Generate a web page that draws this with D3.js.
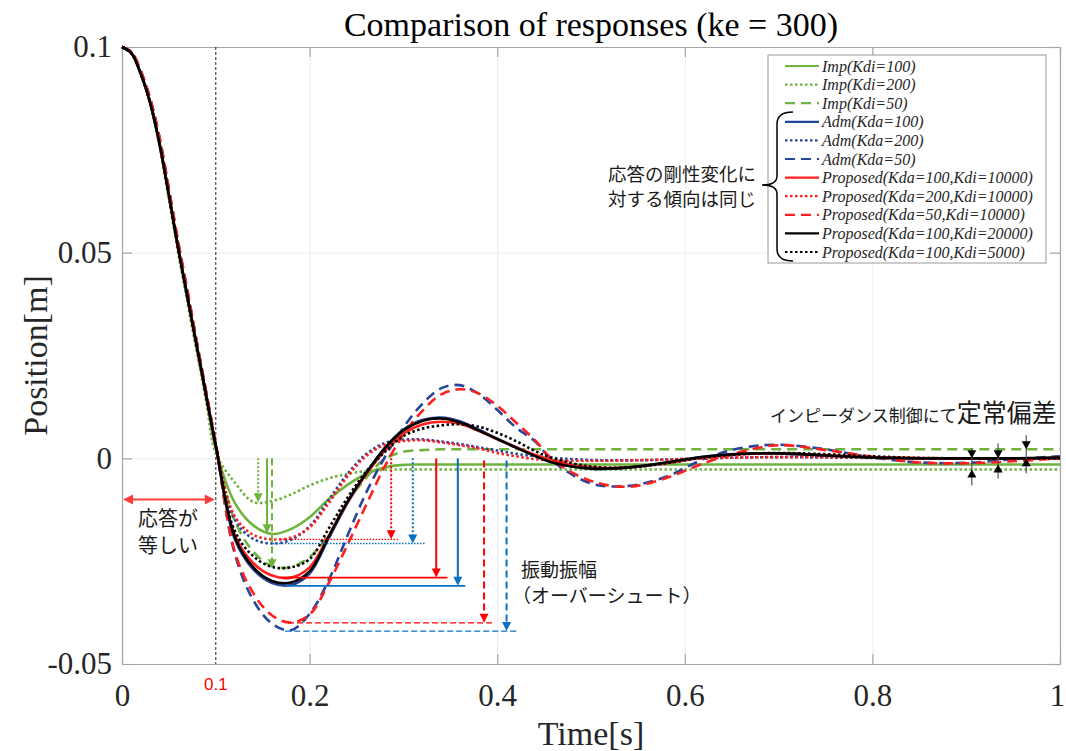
<!DOCTYPE html>
<html>
<head>
<meta charset="utf-8">
<style>
  body { margin: 0; background: #fff; }
  .grid line { stroke: #ebebeb; }
  .grid .domain { stroke: none; }
  .axis path, .axis line { stroke: #a6a6a6; stroke-width: 1.2; }
  .axis text { font-family: "Liberation Serif", serif; font-size: 31px; fill: #262626; }
  .jp { font-family: "Noto Sans CJK JP", sans-serif; fill: #1a1a1a; }
  .leg text { font-family: "Liberation Serif", serif; font-style: italic; font-size: 16px; fill: #262626; }
</style>
<script src="https://d3js.org/d3.v7.min.js"></script>
</head>
<body>
<svg id="chart" width="1066" height="751"></svg>
<script>
// time samples [s]
const times = [0,0.01,0.02,0.03,0.04,0.05,0.06,0.07,0.08,0.09,0.1,
  0.12,0.14,0.16,0.18,0.2,0.22,0.24,0.26,0.28,0.3,0.32,0.34,0.36,0.38,0.4,0.42,0.44,0.46,
  0.5,0.54,0.58,0.62,0.66,0.7,
  0.75,0.8,0.85,0.9,0.95,1.0];

// position [m]
const impKdi100 = [0.1,0.0985,0.0935,0.0864,0.0763,0.0636,0.0505,0.0385,0.0263,0.0143,0.0022,
  -0.0107,-0.0163,-0.0184,-0.0172,-0.0143,-0.01,-0.0065,-0.0038,-0.0022,-0.0016,-0.0015,-0.0015,-0.0015,-0.0015,-0.0015,-0.0015,-0.0015,-0.0015,
  -0.0015,-0.0015,-0.0015,-0.0015,-0.0015,-0.0015,
  -0.0015,-0.0015,-0.0015,-0.0015,-0.0015,-0.0015];
const impKdi200 = [0.1,0.0985,0.0935,0.0862,0.076,0.063,0.0498,0.0375,0.0255,0.0135,0.0012,
  -0.0058,-0.0106,-0.0104,-0.0088,-0.0066,-0.0049,-0.0038,-0.0031,-0.0028,-0.0027,-0.0027,-0.0027,-0.0027,-0.0027,-0.0027,-0.0027,-0.0027,-0.0027,
  -0.0027,-0.0027,-0.0027,-0.0027,-0.0027,-0.0027,
  -0.0027,-0.0027,-0.0027,-0.0027,-0.0027,-0.0027];
const impKdi50 = [0.1,0.0985,0.0935,0.0865,0.0765,0.064,0.051,0.039,0.027,0.015,0.003,
  -0.015,-0.0227,-0.0262,-0.0264,-0.024,-0.0187,-0.0107,-0.0048,-0.0002,0.0016,0.002,0.0022,0.0022,0.0022,0.0022,0.0022,0.0022,0.0022,
  0.0022,0.0022,0.0022,0.0022,0.0022,0.0022,
  0.0022,0.0022,0.0022,0.0022,0.0022,0.0022];
const admKda100 = [0.1,0.0985,0.0935,0.0865,0.0765,0.064,0.051,0.039,0.027,0.015,0.003,
  -0.0195,-0.027,-0.0303,-0.0308,-0.028,-0.0196,-0.011,-0.0038,0.0025,0.007,0.0093,0.0099,0.009,0.007,0.0048,0.0027,0.0007,-0.001,
  -0.0025,-0.0023,-0.0011,0.0004,0.0011,0.0012,
  0.0007,0.0002,0,0,0,0.0001];
const admKda200 = [0.1,0.0985,0.0935,0.0865,0.0765,0.064,0.051,0.039,0.027,0.015,0.003,
  -0.0148,-0.0196,-0.0207,-0.0198,-0.0165,-0.0102,-0.0039,0.001,0.0037,0.0045,0.0046,0.0041,0.0035,0.0027,0.0019,0.0011,0.0005,0.0001,
  -0.0004,-0.0005,-0.0003,0,0.0002,0.0003,
  0.0002,0.0001,0,0,0,0];
const admKda50 = [0.1,0.0988,0.0942,0.0875,0.078,0.0655,0.0525,0.0405,0.028,0.0158,0.0035,
  -0.023,-0.0345,-0.0402,-0.0418,-0.0378,-0.0298,-0.019,-0.0085,0.0002,0.0075,0.0132,0.017,0.0178,0.0157,0.0118,0.0075,0.0042,-0.0008,
  -0.0061,-0.0067,-0.0045,-0.0002,0.0025,0.0033,
  0.0022,0.0002,-0.001,-0.0011,-0.0002,0.0005];
const propKda100 = [0.1,0.0985,0.0935,0.0865,0.0765,0.064,0.051,0.039,0.027,0.015,0.003,
  -0.0185,-0.0255,-0.0285,-0.029,-0.0265,-0.019,-0.0108,-0.004,0.0018,0.006,0.0082,0.0089,0.0084,0.0067,0.0047,0.0027,0.0009,-0.0006,
  -0.0022,-0.0022,-0.0012,0.0002,0.001,0.0012,
  0.0008,0.0003,0,0,0,0.0001];
const propKda200 = [0.1,0.0985,0.0935,0.0865,0.0765,0.064,0.051,0.039,0.027,0.015,0.003,
  -0.014,-0.0186,-0.0197,-0.0193,-0.0168,-0.011,-0.0045,0.0005,0.0033,0.0042,0.0044,0.0039,0.0032,0.0024,0.0013,0.0005,-0.0002,-0.0005,
  -0.0006,-0.0005,-0.0003,0,0.0002,0.0003,
  0.0003,0.0002,0.0001,0,0,0];
const propKda50 = [0.1,0.0988,0.0942,0.0875,0.078,0.0655,0.0525,0.0405,0.028,0.0158,0.0035,
  -0.0225,-0.0328,-0.0382,-0.0399,-0.038,-0.0305,-0.0212,-0.0115,-0.002,0.0058,0.0115,0.0155,0.0168,0.0158,0.0128,0.0087,0.0045,-0.0005,
  -0.0055,-0.0069,-0.0048,-0.0012,0.0016,0.0032,
  0.002,0.0004,-0.001,-0.0012,-0.0007,0];
const propKdi20000 = [0.1,0.0985,0.0935,0.0865,0.0765,0.064,0.051,0.039,0.027,0.015,0.003,
  -0.019,-0.0265,-0.0298,-0.0302,-0.0275,-0.0192,-0.0107,-0.0037,0.0024,0.0068,0.0091,0.0097,0.0088,0.0068,0.0047,0.0026,0.0006,-0.0011,
  -0.0025,-0.0022,-0.001,0.0004,0.0011,0.0012,
  0.0007,0.0002,0,0,0,0.0002];
const propKdi5000 = [0.1,0.0985,0.0935,0.0865,0.0765,0.064,0.051,0.039,0.027,0.015,0.003,
  -0.0175,-0.0238,-0.0264,-0.0265,-0.0245,-0.0172,-0.0097,-0.0033,0.0015,0.0054,0.0072,0.008,0.0083,0.0077,0.0062,0.0042,0.0018,0,
  -0.002,-0.0022,-0.0012,0.0002,0.001,0.0013,
  0.001,0.0005,0.0001,0,0,0];

const seriesNames = ["Imp(Kdi=100)","Imp(Kdi=200)","Imp(Kdi=50)",
  "Adm(Kda=100)","Adm(Kda=200)","Adm(Kda=50)",
  "Proposed(Kda=100,Kdi=10000)","Proposed(Kda=200,Kdi=10000)","Proposed(Kda=50,Kdi=10000)",
  "Proposed(Kda=100,Kdi=20000)","Proposed(Kda=100,Kdi=5000)"];
const seriesValues = [impKdi100, impKdi200, impKdi50, admKda100, admKda200, admKda50,
  propKda100, propKda200, propKda50, propKdi20000, propKdi5000];

const xTicks = [0, 0.2, 0.4, 0.6, 0.8, 1];
const yTicks = [-0.05, 0, 0.05, 0.1];

// overshoot arrows (peak-to-trough), trough values of each curve
const ampArrowT    = [0.287, 0.310, 0.335, 0.358, 0.386, 0.410];
const ampArrowTo   = [-0.0197, -0.0207, -0.029, -0.031, -0.040, -0.042];
const ampLineStart = [0.168, 0.161, 0.171, 0.174, 0.177, 0.174];
const ampLineEnd   = [0.296, 0.324, 0.347, 0.366, 0.395, 0.421];
const ampKind      = ["red:dot", "blue:dot", "red:solid", "blue:solid", "red:dash", "blue:dash"];

// arrows to the first trough of Imp curves
const impArrowT  = [0.1452, 0.1546, 0.1599];
const impArrowTo = [-0.0107, -0.0182, -0.0267];
const impKind    = ["dot", "solid", "dash"];

// steady-state error markers
const sseT      = [0.906, 0.934, 0.964];
const sseUpper  = [0, 0, 0.0022];
const sseLower  = [-0.0027, -0.0015, 0];
const sseTop    = [0.0024, 0.0036, 0.0056];
const sseBottom = [-0.0066, -0.0049, -0.0036];

const green = "#6fb43f", blue = "#27459c", red = "#ff1f1f";
const arrowRed = "#ff0000", arrowBlue = "#0a70c4", arrowGreen = "#6fb43f";

const svg = d3.select("#chart");
const x = d3.scaleLinear().domain([0, 1]).range([122, 1060]);
const y = d3.scaleLinear().domain([-0.05, 0.1]).range([664, 47]);

// gridlines
svg.append("g").attr("class", "grid")
  .attr("transform", "translate(0," + y(-0.05) + ")")
  .call(d3.axisBottom(x).tickValues([0.2, 0.4, 0.6, 0.8]).tickSize(-(y(-0.05) - y(0.1))).tickFormat(""));
svg.append("g").attr("class", "grid")
  .attr("transform", "translate(" + x(0) + ",0)")
  .call(d3.axisLeft(y).tickValues([0, 0.05]).tickSize(-(x(1) - x(0))).tickFormat(""));

// axes (box with inward ticks)
const bottomAxis = svg.append("g").attr("class", "axis")
  .attr("transform", "translate(0," + y(-0.05) + ")")
  .call(d3.axisBottom(x).tickValues(xTicks).tickSizeInner(-10).tickSizeOuter(0).tickPadding(20).tickFormat(d => String(d)));
bottomAxis.selectAll(".tick text").filter(d => d === 1).attr("dx", -3);
svg.append("g").attr("class", "axis")
  .attr("transform", "translate(" + x(0) + ",0)")
  .call(d3.axisLeft(y).tickValues(yTicks).tickSizeInner(-10).tickSizeOuter(0).tickPadding(10).tickFormat(d => String(d)));
svg.append("g").attr("class", "axis")
  .attr("transform", "translate(0," + y(0.1) + ")")
  .call(d3.axisTop(x).tickValues(xTicks).tickSizeInner(-10).tickSizeOuter(0).tickFormat(""));
svg.append("g").attr("class", "axis")
  .attr("transform", "translate(" + x(1) + ",0)")
  .call(d3.axisRight(y).tickValues(yTicks).tickSizeInner(-10).tickSizeOuter(0).tickFormat(""));

// t = 0.1 marker
svg.append("line")
  .attr("x1", x(0.1)).attr("x2", x(0.1)).attr("y1", y(0.1)).attr("y2", y(-0.05))
  .attr("stroke", "#222").attr("stroke-width", 1).attr("stroke-dasharray", "3,2");
svg.append("text").attr("x", x(0.1)).attr("y", 690)
  .attr("text-anchor", "middle").style("font-family", "Liberation Sans, sans-serif")
  .style("font-size", "17px").attr("fill", "#ff0000").text("0.1");

function styleOf(i) {
  const col = i < 3 ? green : i < 6 ? blue : i < 9 ? red : "#000";
  let dash = null;
  if (i === 9) dash = null;
  else if (i === 10) dash = "2.5,2.5";
  else if (i % 3 === 1) dash = "2.5,2.5";
  else if (i % 3 === 2) dash = "10,6";
  return {col, dash};
}

const line = d3.line()
  .x((d, i) => x(times[i]))
  .y(d => y(d))
  .curve(d3.curveCatmullRom.alpha(0.5));

const curves = svg.append("g");
seriesValues.forEach((vals, i) => {
  const s = styleOf(i);
  curves.append("path")
    .attr("d", line(vals))
    .attr("fill", "none")
    .attr("stroke", s.col)
    .attr("stroke-width", 2.6)
    .attr("stroke-dasharray", s.dash);
});

// arrowhead helper: tip at (px,py), dir 1 = pointing down, -1 = up, 0 = right, 2 = left
function head(g, px, py, dir, col, w, h) {
  let p;
  if (dir === 1) p = [[px, py], [px - w, py - h], [px + w, py - h]];
  else if (dir === -1) p = [[px, py], [px - w, py + h], [px + w, py + h]];
  else if (dir === 0) p = [[px, py], [px - h, py - w], [px - h, py + w]];
  else p = [[px, py], [px + h, py - w], [px + h, py + w]];
  g.append("path").attr("d", "M" + p.join("L") + "Z").attr("fill", col);
}
function dashOf(k) { return k === "dot" ? "2,2" : k === "dash" ? "7,4" : null; }

const ann = svg.append("g");

// Imp trough arrows
impArrowT.forEach((t, i) => {
  ann.append("line")
    .attr("x1", x(t)).attr("x2", x(t)).attr("y1", y(0)).attr("y2", y(impArrowTo[i]) - 7)
    .attr("stroke", arrowGreen).attr("stroke-width", 2).attr("stroke-dasharray", dashOf(impKind[i]));
  head(ann, x(t), y(impArrowTo[i]), 1, arrowGreen, 4.5, 9);
});

// overshoot amplitude arrows
ampArrowT.forEach((t, i) => {
  const [c, k] = ampKind[i].split(":");
  const col = c === "red" ? arrowRed : arrowBlue;
  const from = k === "dash" ? -0.0005 : 0;
  ann.append("line")
    .attr("x1", x(ampLineStart[i])).attr("x2", x(ampLineEnd[i]))
    .attr("y1", y(ampArrowTo[i])).attr("y2", y(ampArrowTo[i]))
    .attr("stroke", col).attr("stroke-width", k === "solid" ? 1.6 : 1.3)
    .attr("stroke-dasharray", k === "dot" ? "1.5,1.5" : k === "dash" ? "6,3" : null);
  ann.append("line")
    .attr("x1", x(t)).attr("x2", x(t)).attr("y1", y(from)).attr("y2", y(ampArrowTo[i]) - 7)
    .attr("stroke", col).attr("stroke-width", 2)
    .attr("stroke-dasharray", dashOf(k));
  head(ann, x(t), y(ampArrowTo[i]), 1, col, 4.5, 9);
});

// steady-state error markers
sseT.forEach((t, i) => {
  ann.append("line")
    .attr("x1", x(t)).attr("x2", x(t)).attr("y1", y(sseTop[i])).attr("y2", y(sseBottom[i]))
    .attr("stroke", "#555").attr("stroke-width", 1.2);
  head(ann, x(t), y(sseUpper[i]), 1, "#000", 4.5, 8);
  head(ann, x(t), y(sseLower[i]), -1, "#000", 4.5, 8);
});

// equal-response double arrow
ann.append("line")
  .attr("x1", x(0) + 8).attr("x2", x(0.1) - 8).attr("y1", y(-0.01)).attr("y2", y(-0.01))
  .attr("stroke", "#ff3b3b").attr("stroke-width", 2);
head(ann, x(0) + 1, y(-0.01), 2, "#ff3b3b", 5, 10);
head(ann, x(0.1) - 1, y(-0.01), 0, "#ff3b3b", 5, 10);

// Japanese annotations
const jp = svg.append("g").attr("class", "jp");
jp.append("text").attr("x", 168).attr("y", 526).attr("text-anchor", "middle").style("font-size", "20px").text("応答が");
jp.append("text").attr("x", 168).attr("y", 553).attr("text-anchor", "middle").style("font-size", "20px").text("等しい");
jp.append("text").attr("x", 521).attr("y", 577).style("font-size", "19px").text("振動振幅");
jp.append("text").attr("x", 512).attr("y", 603).style("font-size", "19px").text("（オーバーシュート）");
jp.append("text").attr("x", 608).attr("y", 181).style("font-size", "18.5px").text("応答の剛性変化に");
jp.append("text").attr("x", 608).attr("y", 206).style("font-size", "18.5px").text("対する傾向は同じ");
const sse = jp.append("text").attr("x", 770).attr("y", 422);
sse.append("tspan").style("font-size", "17px").text("インピーダンス制御にて");
sse.append("tspan").style("font-size", "25px").text("定常偏差");

// legend
const leg = svg.append("g").attr("class", "leg");
leg.append("rect").attr("x", 768).attr("y", 55).attr("width", 278).attr("height", 208)
  .attr("fill", "#fff").attr("stroke", "#9a9a9a").attr("stroke-width", 1);
seriesNames.forEach((name, i) => {
  const s = styleOf(i);
  const ly = 66 + i * 18.6;
  leg.append("line").attr("x1", 785).attr("x2", 819).attr("y1", ly).attr("y2", ly)
    .attr("stroke", s.col).attr("stroke-width", 2.2).attr("stroke-dasharray", s.dash);
  leg.append("text").attr("x", 822).attr("y", ly).attr("dy", "0.35em").text(name);
});

// brace grouping Adm / Proposed entries
svg.append("path")
  .attr("d", "M793,112 Q777,112 777,124 L777,176 Q777,185 762,185 Q777,185 777,194 L777,249 Q777,261 793,261")
  .attr("fill", "none").attr("stroke", "#000").attr("stroke-width", 1.5);

// title and axis labels
svg.append("text").attr("x", (x(0) + x(1)) / 2).attr("y", 36).attr("text-anchor", "middle")
  .style("font-family", "Liberation Serif, serif").style("font-size", "34px").text("Comparison of responses (ke = 300)");
svg.append("text").attr("x", (x(0) + x(1)) / 2).attr("y", 745).attr("text-anchor", "middle")
  .style("font-family", "Liberation Serif, serif").style("font-size", "34px").attr("fill", "#262626").text("Time[s]");
svg.append("text").attr("transform", "translate(47," + y(0.025) + ") rotate(-90)").attr("text-anchor", "middle")
  .style("font-family", "Liberation Serif, serif").style("font-size", "34px").attr("fill", "#262626").text("Position[m]");
</script>
</body>
</html>
